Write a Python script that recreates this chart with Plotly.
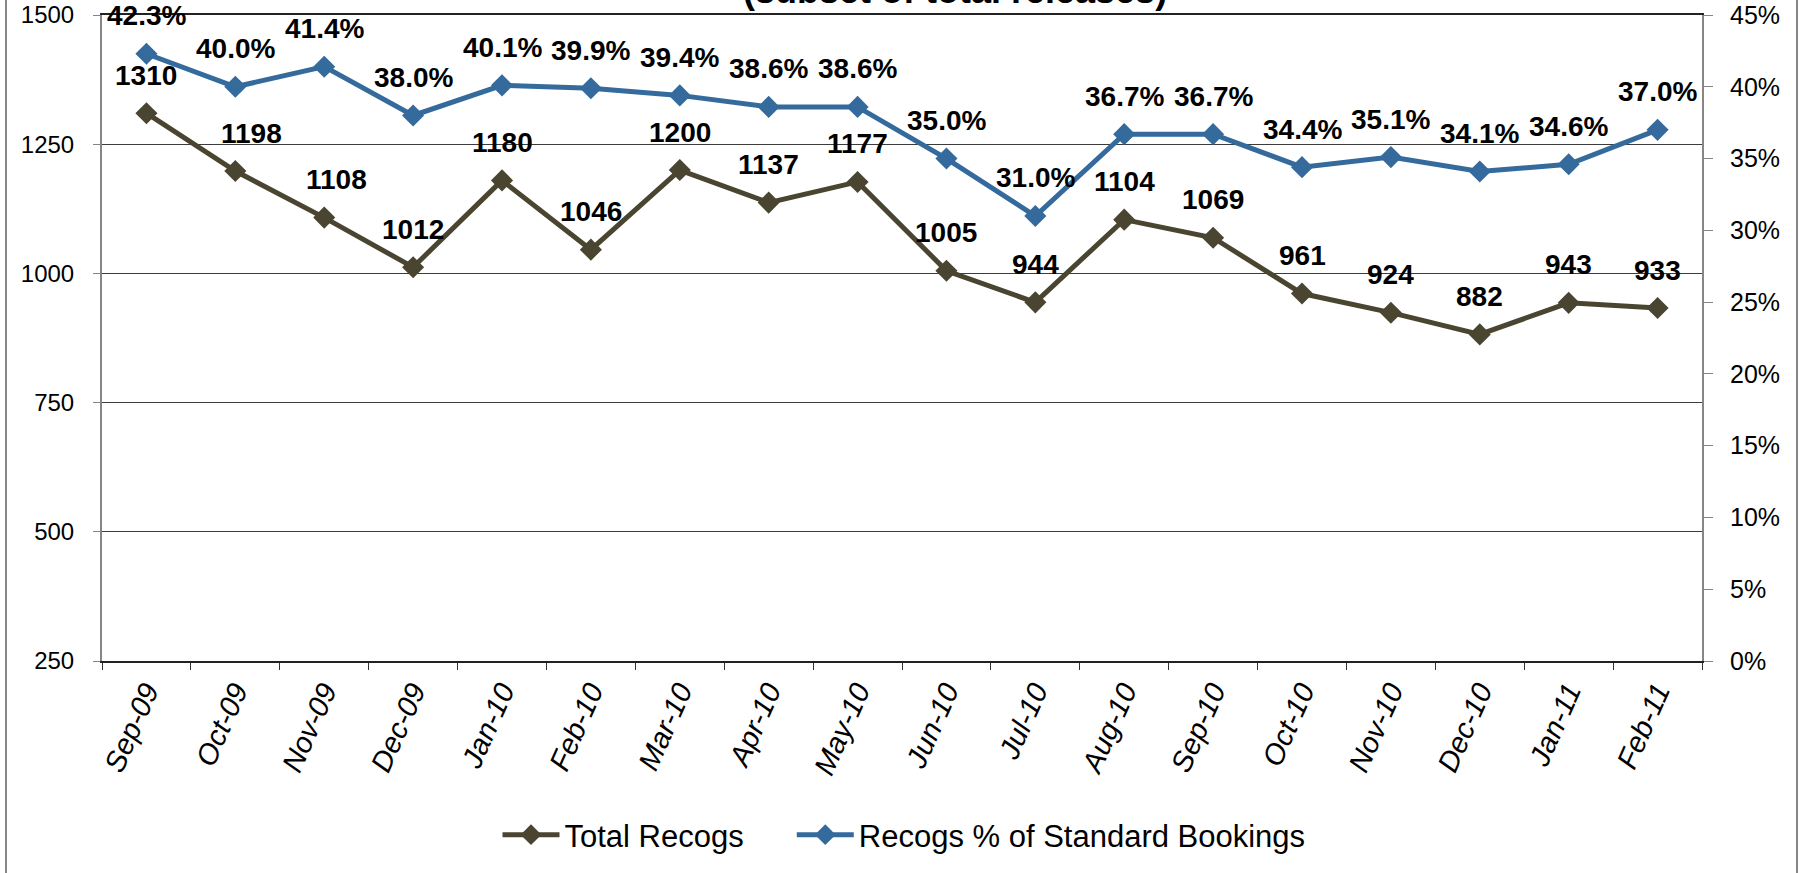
import plotly.graph_objects as go

months = ["Sep-09", "Oct-09", "Nov-09", "Dec-09", "Jan-10", "Feb-10", "Mar-10", "Apr-10", "May-10",
          "Jun-10", "Jul-10", "Aug-10", "Sep-10", "Oct-10", "Nov-10", "Dec-10", "Jan-11", "Feb-11"]
total_recogs = [1310, 1198, 1108, 1012, 1180, 1046, 1200, 1137, 1177,
                1005, 944, 1104, 1069, 961, 924, 882, 943, 933]
pct_standard = [42.3, 40.0, 41.4, 38.0, 40.1, 39.9, 39.4, 38.6, 38.6,
                35.0, 31.0, 36.7, 36.7, 34.4, 35.1, 34.1, 34.6, 37.0]
left_ticks = [250, 500, 750, 1000, 1250, 1500]
right_ticks = [0, 5, 10, 15, 20, 25, 30, 35, 40, 45]
subtitle = "(subset of total releases)"

FONT = "Liberation Sans, Arial, sans-serif"
OLIVE = "#4A4530"
BLUE = "#346A9C"

W, H = 1803, 873
ML, MR, MT, MB = 102, 101, 15, 212
PW = W - ML - MR
PH = H - MT - MB

fig = go.Figure()
fig.add_trace(go.Scatter(
    x=months, y=total_recogs, name="Total Recogs" + "\u00a0" * 5, mode="lines+markers",
    line=dict(color=OLIVE, width=5), marker=dict(symbol="diamond", size=17, color=OLIVE),
    yaxis="y", cliponaxis=False))
fig.add_trace(go.Scatter(
    x=months, y=[p / 100 for p in pct_standard], name="Recogs % of Standard Bookings",
    mode="lines+markers",
    line=dict(color=BLUE, width=5), marker=dict(symbol="diamond", size=17, color=BLUE),
    yaxis="y2", cliponaxis=False))

nudge_total = {1: 16, 2: 12}
annotations = []
for i, (m, v) in enumerate(zip(months, total_recogs)):
    annotations.append(dict(x=m, y=v, xref="x", yref="y", text=f"<b>{v}</b>", showarrow=False,
                            yshift=38, xshift=nudge_total.get(i, 0),
                            font=dict(family=FONT, size=28, color="#000000")))
for i, (m, p) in enumerate(zip(months, pct_standard)):
    annotations.append(dict(x=m, y=p / 100, xref="x", yref="y2", text=f"<b>{p:.1f}%</b>", showarrow=False,
                            yshift=38, font=dict(family=FONT, size=28, color="#000000")))
annotations.append(dict(x=(955 - ML) / PW, y=1, xref="paper", yref="paper", xanchor="center",
                        yanchor="bottom", yshift=2, showarrow=False, text=f"<b>{subtitle}</b>",
                        font=dict(family=FONT, size=36, color="#000000")))

shapes = []
for px in (6, 1797):
    shapes.append(dict(type="line", xref="paper", yref="paper",
                       x0=(px - ML) / PW, x1=(px - ML) / PW, y0=-1, y1=2,
                       line=dict(color="#868686", width=2)))

fig.update_layout(
    width=W, height=H,
    margin=dict(l=ML, r=MR, t=MT, b=MB, pad=0, autoexpand=False),
    paper_bgcolor="white", plot_bgcolor="white",
    font=dict(family=FONT, color="#000000"),
    showlegend=True,
    legend=dict(orientation="h", x=(904 - ML) / PW, xanchor="center", y=(MT + PH - 835) / PH,
                yanchor="middle", font=dict(family=FONT, size=31, color="#000000"),
                bgcolor="rgba(0,0,0,0)", itemwidth=57, tracegroupgap=0),
    xaxis=dict(type="category", tickangle=-66, ticks="outside", tickson="boundaries", ticklen=7,
               tickcolor="#333333", showline=True, linecolor="#222222", linewidth=1.5, mirror=True,
               showgrid=False, automargin=False,
               tickfont=dict(family=FONT, size=29, style="italic", color="#000000"),
               range=[-0.5, len(months) - 0.5]),
    yaxis=dict(range=[250, 1500], tickvals=left_ticks, ticks="outside", ticklen=7, tickcolor="#868686",
               showline=True, linecolor="#868686", linewidth=2, showgrid=True, gridcolor="#3c3c3c",
               gridwidth=1, zeroline=False, automargin=False, ticklabelstandoff=14,
               tickfont=dict(family=FONT, size=24, color="#000000")),
    yaxis2=dict(range=[0, 0.45], tickvals=[t / 100 for t in right_ticks],
                ticktext=[f"{t}%" for t in right_ticks], overlaying="y", side="right",
                ticks="outside", ticklen=9, tickcolor="#868686", showline=True, linecolor="#868686",
                linewidth=2, showgrid=False, zeroline=False, automargin=False, ticklabelstandoff=12,
                tickfont=dict(family=FONT, size=25, color="#000000")),
    annotations=annotations,
    shapes=shapes,
)

fig.write_html("out.html", config={"displayModeBar": False},
               post_script="document.body.style.margin='0px';")
